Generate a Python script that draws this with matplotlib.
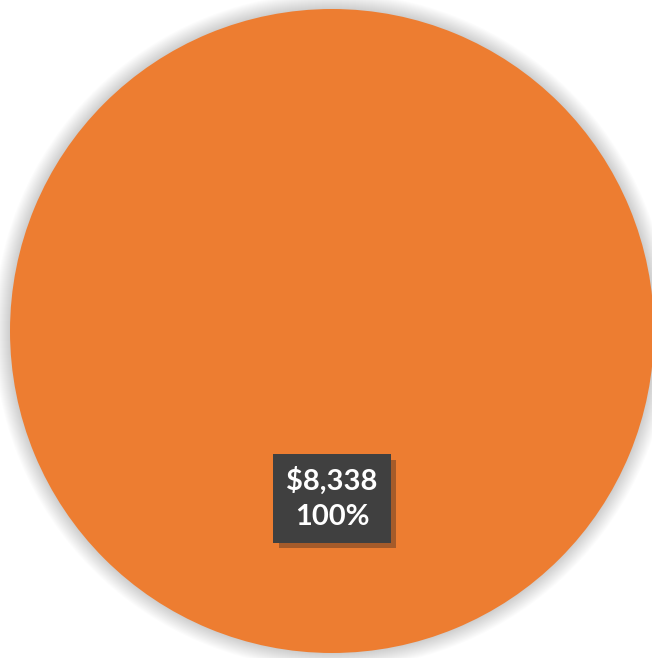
import matplotlib
matplotlib.use("Agg")
import matplotlib.pyplot as plt
import matplotlib.patheffects as pe
from matplotlib.patches import Circle

categories = ["Total"]
values = [8338]
colors = ["#ED7D31"]

W, H = 652, 658
fig = plt.figure(figsize=(W / 100, H / 100), dpi=100)
ax = fig.add_axes([0, 0, 1, 1])
ax.set_xlim(0, W)
ax.set_ylim(0, H)
ax.set_aspect("equal")
ax.axis("off")

cx, cy, r = 332, H - 331, 322

# soft outer shadow
for i in range(16):
    ax.add_patch(Circle((cx, cy), r + 16 - i, facecolor="#000000",
                        alpha=0.011, edgecolor="none", zorder=0))

total = sum(values)

def fmt(p):
    return "${:,.0f}\n{:.0f}%".format(p * total / 100, p)

wedges, texts, autotexts = ax.pie(
    values, colors=colors, startangle=90, counterclock=False,
    radius=r, center=(cx, cy), autopct=fmt, pctdistance=0.52,
    wedgeprops=dict(linewidth=0), frame=True)
ax.set_xlim(0, W)
ax.set_ylim(0, H)
ax.axis("off")

for t in autotexts:
    t.set_color("white")
    t.set_fontsize(21)
    t.set_fontweight("bold")
    t.set_family(["Lato", "DejaVu Sans"])
    t.set_linespacing(1.4)
    t.set_zorder(5)
    t.set_bbox(dict(boxstyle="square,pad=0.45", facecolor="#404040",
                    edgecolor="none"))
    t.get_bbox_patch().set_path_effects([
        pe.SimplePatchShadow(offset=(4, -4), shadow_rgbFace="#3a2a20", alpha=0.4),
        pe.Normal()])

fig.savefig("out.png", dpi=100)
